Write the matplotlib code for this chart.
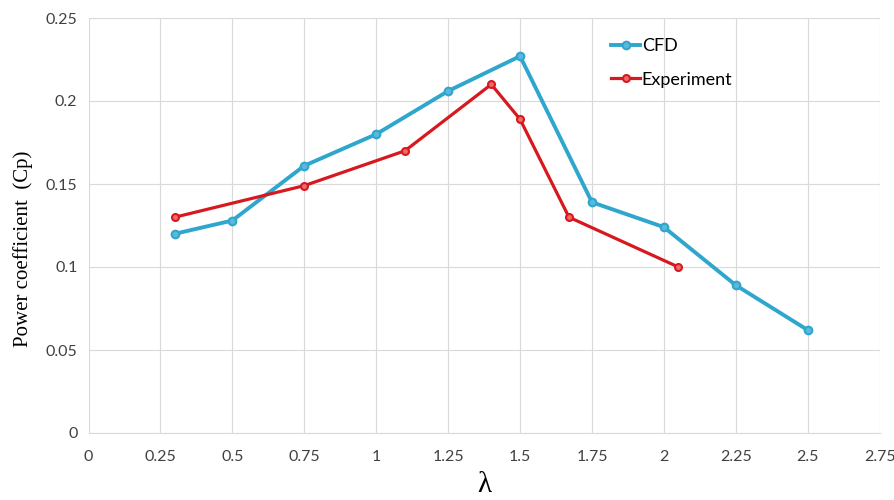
import matplotlib.pyplot as plt
import numpy as np

# data
cfd_tsr = [0.3, 0.5, 0.75, 1.0, 1.25, 1.5, 1.75, 2.0, 2.25, 2.5]
cfd_cp = [0.12, 0.128, 0.161, 0.18, 0.206, 0.227, 0.139, 0.124, 0.089, 0.062]
exp_tsr = [0.3, 0.75, 1.1, 1.4, 1.5, 1.67, 2.05]
exp_cp = [0.13, 0.149, 0.17, 0.21, 0.189, 0.13, 0.1]

x_ticks = np.arange(0, 2.76, 0.25)
x_labels = ['0', '0.25', '0.5', '0.75', '1', '1.25', '1.5', '1.75', '2', '2.25', '2.5', '2.75']
y_ticks = [0, 0.05, 0.1, 0.15, 0.2, 0.25]
y_labels = ['0', '0.05', '0.1', '0.15', '0.2', '0.25']

cfd_col = '#2FA6CE'
exp_col = '#D7191F'

fig = plt.figure(figsize=(8.94, 5), dpi=100)
ax = fig.add_axes([0.099, 0.134, 0.885, 0.83])

ax.plot(cfd_tsr, cfd_cp, color=cfd_col, lw=2.8, marker='o', ms=5.5,
        mfc='#5BB8DA', mec=cfd_col, mew=1.5, label='CFD')
ax.plot(exp_tsr, exp_cp, color=exp_col, lw=2.3, marker='o', ms=5,
        mfc='#F06A6A', mec=exp_col, mew=1.5, label='Experiment')

ax.set_xlim(0, 2.75)
ax.set_ylim(0, 0.25)
ax.set_xticks(x_ticks)
ax.set_xticklabels(x_labels)
ax.set_yticks(y_ticks)
ax.set_yticklabels(y_labels)
ax.grid(True, color='#D9D9D9', lw=0.8)
ax.set_axisbelow(True)
for s in ['top', 'right', 'left']:
    ax.spines[s].set_visible(False)
ax.spines['bottom'].set_color('#D9D9D9')
ax.tick_params(length=0, labelsize=11.5, colors='#404040', pad=12)
for lbl in ax.get_xticklabels() + ax.get_yticklabels():
    lbl.set_family('Lato')
ax.tick_params(axis='y', pad=8)

ax.set_xlabel('λ', family='Liberation Serif', fontsize=21, labelpad=6)
ax.set_ylabel('Power coefficient  (Cp)', family='Liberation Serif', fontsize=15)
ax.yaxis.set_label_coords(-0.07, 0.445)

leg = ax.legend(loc='upper left', bbox_to_anchor=(0.64, 0.99), frameon=False,
                prop={'family': 'Lato', 'size': 13}, handlelength=1.6,
                handletextpad=0.1, labelspacing=0.95)

fig.savefig('out.png', dpi=100)
